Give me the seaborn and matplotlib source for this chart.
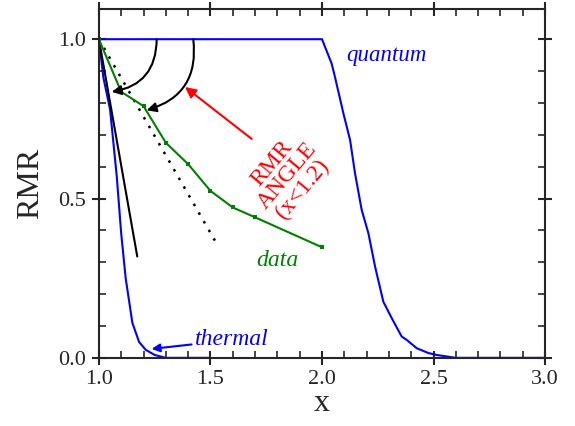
import numpy as np
import pandas as pd
import matplotlib
matplotlib.use("Agg")
import matplotlib.pyplot as plt
import seaborn as sns
from matplotlib.ticker import MultipleLocator

# measured RMR data
data_x = [1.0, 1.1, 1.2, 1.3, 1.4, 1.5, 1.6, 1.7, 2.0]
data_y = [1.0, 0.835, 0.79, 0.675, 0.608, 0.524, 0.472, 0.441, 0.347]

# thermal model
thermal_x = [1.0, 1.02, 1.05, 1.08, 1.10, 1.12, 1.15, 1.18, 1.21, 1.25, 1.30, 1.5]
thermal_y = [1.0, 0.88, 0.78, 0.57, 0.39, 0.25, 0.11, 0.05, 0.025, 0.009, 0.0, 0.0]

# quantum model
quantum_x = [1.0, 2.0, 2.043, 2.058, 2.096, 2.126, 2.148, 2.178, 2.208, 2.238,
             2.275, 2.313, 2.357, 2.38, 2.425, 2.477, 2.514, 2.60, 3.0]
quantum_y = [1.0, 1.0, 0.924, 0.882, 0.767, 0.683, 0.579, 0.464, 0.391, 0.286,
             0.176, 0.124, 0.067, 0.056, 0.030, 0.015, 0.009, 0.0, 0.0]

# RMR angle lines
angle_solid_x = [1.0, 1.172]
angle_solid_y = [1.0, 0.318]
angle_dot_x = [1.0, 1.52]
angle_dot_y = [1.0, 0.368]

sns.set_style("ticks")
plt.rcParams['font.family'] = ['Liberation Serif', 'DejaVu Serif']

fig = plt.figure(figsize=(5.75, 4.26), dpi=100)
ax = fig.add_axes([0.172, 0.160, 0.776, 0.819])

sns.lineplot(x=thermal_x, y=thermal_y, color='#0000ff', lw=1.5, ax=ax)
sns.lineplot(x=quantum_x, y=quantum_y, color='#0000ff', lw=1.5, ax=ax)
sns.lineplot(x=angle_solid_x, y=angle_solid_y, color='black', lw=1.5, ax=ax)
sns.lineplot(x=angle_dot_x, y=angle_dot_y, color='black', lw=1.8,
             linestyle=(0, (1, 3.0)), ax=ax)
sns.lineplot(x=data_x, y=data_y, color='#008000', lw=1.5, marker='s',
             markersize=3.5, markeredgewidth=0, ax=ax)

# angle arcs
ax.annotate("", xy=(1.057, 0.835), xytext=(1.259, 1.0),
            arrowprops=dict(arrowstyle='-|>', color='black', lw=1.5,
                            connectionstyle='arc3,rad=-0.42',
                            mutation_scale=14, shrinkA=0, shrinkB=0))
ax.annotate("", xy=(1.214, 0.777), xytext=(1.423, 1.0),
            arrowprops=dict(arrowstyle='-|>', color='black', lw=1.5,
                            connectionstyle='arc3,rad=-0.42',
                            mutation_scale=14, shrinkA=0, shrinkB=0))

# red arrow + label
ax.annotate("", xy=(1.386, 0.85), xytext=(1.685, 0.687),
            arrowprops=dict(arrowstyle='-|>', color='#ff0000', lw=1.5,
                            mutation_scale=16, shrinkA=0, shrinkB=0))
ax.text(1.845, 0.57, "RMR\nANGLE\n(x<1.2)", color='#ff0000', fontsize=17,
        rotation=50, ha='center', va='center', multialignment='center',
        linespacing=0.95, rotation_mode='anchor')

# thermal label with arrow
ax.annotate("thermal", xy=(1.236, 0.028), xytext=(1.43, 0.056),
            color='#0000ff', fontsize=17, style='italic', va='center',
            arrowprops=dict(arrowstyle='-|>', color='#0000ff', lw=1.5,
                            mutation_scale=12, shrinkA=0, shrinkB=0))
ax.text(2.29, 0.95, "quantum", color='#0000ff', fontsize=16.5, style='italic',
        ha='center', va='center')
ax.text(1.80, 0.307, "data", color='#008000', fontsize=17, style='italic',
        ha='center', va='center')

ax.set_xlim(1.0, 3.0)
ax.set_ylim(0.0, 1.095)
ax.xaxis.set_major_locator(MultipleLocator(0.5))
ax.xaxis.set_minor_locator(MultipleLocator(0.1))
ax.yaxis.set_major_locator(MultipleLocator(0.5))
ax.yaxis.set_minor_locator(MultipleLocator(0.1))
ax.xaxis.set_major_formatter(plt.FormatStrFormatter('%.1f'))
ax.yaxis.set_major_formatter(plt.FormatStrFormatter('%.1f'))
ax.tick_params(which='major', direction='inout', length=10, width=1.5,
               top=True, right=True, labelsize=16, pad=4)
ax.tick_params(which='minor', direction='in', length=5, width=1.2,
               top=True, right=True)
for s in ax.spines.values():
    s.set_linewidth(1.5)
    s.set_visible(True)

ax.set_xlabel("x", fontsize=23, labelpad=0)
ax.set_ylabel("RMR", fontsize=23, labelpad=10)

fig.savefig("out.png", dpi=100)
